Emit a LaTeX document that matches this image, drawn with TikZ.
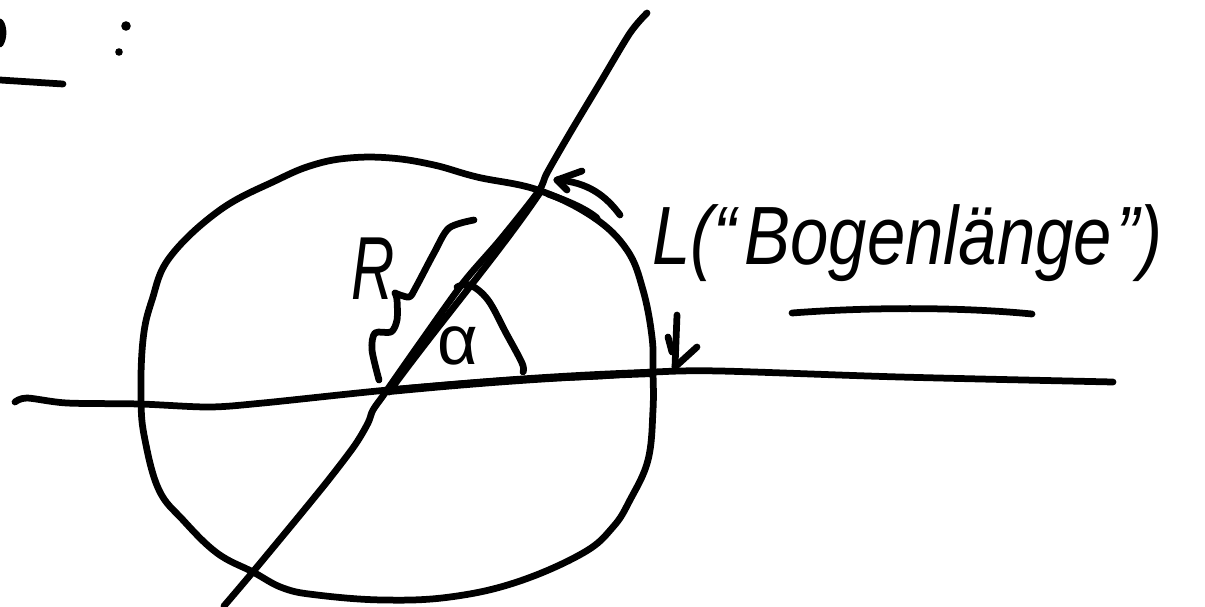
\documentclass[tikz,border=0pt]{standalone}
\usepackage{fontspec}
\newfontfamily\hand{Liberation Sans}
\begin{document}
\begin{tikzpicture}[x=0.025cm,y=-0.025cm,
  pen/.style={line width=4.8pt,line cap=round,line join=round},
  handtext/.style={inner sep=0pt,font=\hand\fontsize{49}{54}\selectfont}]
\useasboundingbox (0,0) rectangle (1205,606);

% top-left fragment
\draw[pen] (0,22) .. controls (4,27) and (4,38) .. (0,44);
\draw[pen] (0,80) -- (63,84);
\fill (126,26) circle[radius=0.12cm];
\fill (119,52) circle[radius=0.095cm];

% circle
\draw[pen] plot[smooth cycle,tension=0.65] coordinates {
 (349,158) (391,158) (434,165) (477,177) (538,190) (593,217) (627,250)
 (643,290) (652,337) (653,372) (653,410) (648,460) (630,500) (613,527)
 (583,553) (517,582) (450,597) (383,600) (317,595) (283,588) (253,572)
 (217,553) (183,520) (159,490) (145,440) (141,400) (143,340) (152,300)
 (170,257) (220,210) (277,180) (313,165)};

% horizontal line
\draw[pen] plot[smooth,tension=0.5] coordinates {
 (15,402) (27,398) (67,403) (140,404) (209,407) (263,403) (388,390)
 (513,380) (600,376) (654,372) (720,371) (900,377) (1113,382)};
\draw[pen,line width=5.8pt] (388,391) .. controls (470,383) and (560,376) .. (650,373);

% diagonal line
\draw[pen] plot[smooth,tension=0.5] coordinates {
 (224,606) (252,573) (300,515) (330,478) (355,445) (368,423) (373,410)
 (385,393) (420,343) (463,283) (500,240) (538,192) (547,173) (570,133)
 (600,83) (630,33) (647,13)};
\draw[pen] (389,392) .. controls (440,322) and (500,252) .. (541,191);

% brace for R
\draw[pen] plot[smooth,tension=0.5] coordinates {
 (379,380) (372,350) (375,333) (391,332) (397,320) (397,300) (395,293)};
\draw[pen] plot[smooth,tension=0.5] coordinates {
 (395,293) (409,297) (416,287) (434,253) (449,228) (474,220)};
\node[handtext] (R) at (373,269) {\scalebox{0.87}[1.3]{\itshape R}};

% angle alpha
\draw[pen] plot[smooth,tension=0.6] coordinates {
 (457,287) (470,285) (488,300) (506,333) (522,363) (523,372)};
\node[handtext,font=\hand\fontsize{50}{54}\selectfont] (alpha) at (458,346) {α};

% arc-length arrow
\coordinate (La) at (620,215);
\coordinate (Ltip) at (557,180);
\draw[pen] (La) .. controls (606,196) and (588,182) .. (Ltip);
\draw[pen] (Ltip) -- (582,171);
\draw[pen] (Ltip) -- (567,190);
\draw[pen] (548,194) .. controls (565,200) and (585,208) .. (597,218);

% down arrow
\coordinate (Dtop) at (677,315);
\coordinate (Dtip) at (675,367);
\draw[pen] (Dtop) -- (Dtip);
\draw[pen] (697,347) -- (Dtip);
\draw[pen] (668,337) -- (672,352);

% label
\node[handtext,anchor=base west] (Ltext) at (652,264)
  {\scalebox{1}[1.2]{\itshape L(“\kern0.2cm Bogenlänge\kern0.1cm”)}};
\draw[pen] (792,313) .. controls (870,307) and (960,307) .. (1032,314);
\end{tikzpicture}
\end{document}
